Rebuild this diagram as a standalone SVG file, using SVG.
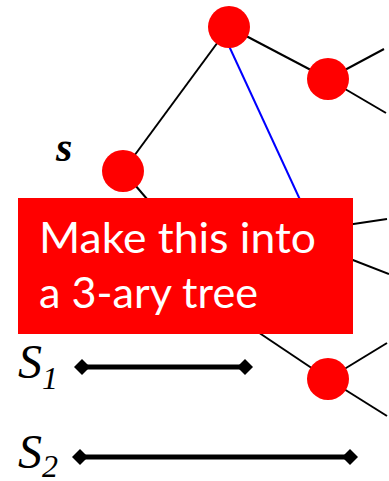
<svg xmlns="http://www.w3.org/2000/svg" width="389" height="481" viewBox="0 0 389 481">
<style>
.e{stroke:#000;stroke-width:2;fill:none}
.b{stroke:#0000ff;stroke-width:2;fill:none}
.n{fill:#ff0000}
.seg{stroke:#000;stroke-width:5}
.dm{fill:#000}
.lbl{font-family:"Liberation Serif","Times New Roman",serif;font-style:italic;fill:#000}
.box{fill:#ff0000}
.bt{font-family:Lato,"Open Sans",sans-serif;font-size:43px;fill:#fff}
</style>
<defs>
<polygon id="dia" points="-8,0 0,-8 8,0 0,8"/>
</defs>
<g id="connectors">
<line class="e" x1="229" y1="27" x2="123" y2="171"/>
<line class="e" x1="229" y1="27" x2="328" y2="79"/>
<line class="b" x1="229" y1="46" x2="314" y2="230"/>
<line class="e" x1="328" y1="79" x2="384" y2="49"/>
<line class="e" x1="328" y1="79" x2="386" y2="113"/>
<line class="e" x1="123" y1="171" x2="165" y2="220"/>
<line class="e" x1="340" y1="226" x2="387" y2="219"/>
<line class="e" x1="340" y1="255" x2="389" y2="274"/>
<line class="e" x1="240" y1="320" x2="328" y2="379"/>
<line class="e" x1="328" y1="379" x2="387" y2="343"/>
<line class="e" x1="328" y1="379" x2="387" y2="416"/>
</g>
<g id="node-top"><circle class="n" cx="229" cy="27" r="21"/></g>
<g id="node-right"><circle class="n" cx="328" cy="79" r="21"/></g>
<g id="node-s"><circle class="n" cx="123" cy="171" r="21"/><text class="lbl" x="56" y="161" font-size="42" font-weight="bold">s</text></g>
<g id="node-bottom"><circle class="n" cx="328" cy="379" r="21"/></g>
<g id="callout">
<rect class="box" x="18" y="198" width="335" height="136"/>
<text class="bt" x="39" y="253" textLength="277" lengthAdjust="spacingAndGlyphs">Make this into</text>
<text class="bt" x="39" y="308" textLength="219" lengthAdjust="spacingAndGlyphs">a 3-ary tree</text>
</g>
<g id="S1">
<text class="lbl" x="18" y="378" font-size="48">S</text>
<text class="lbl" x="42" y="389" font-size="32">1</text>
<line class="seg" x1="82" y1="367" x2="245" y2="367"/>
<use href="#dia" class="dm" x="82" y="367"/>
<use href="#dia" class="dm" x="245" y="367"/>
</g>
<g id="S2">
<text class="lbl" x="18" y="468" font-size="48">S</text>
<text class="lbl" x="42" y="477" font-size="32">2</text>
<line class="seg" x1="80" y1="457" x2="350" y2="457"/>
<use href="#dia" class="dm" x="80" y="457"/>
<use href="#dia" class="dm" x="350" y="457"/>
</g>
</svg>
